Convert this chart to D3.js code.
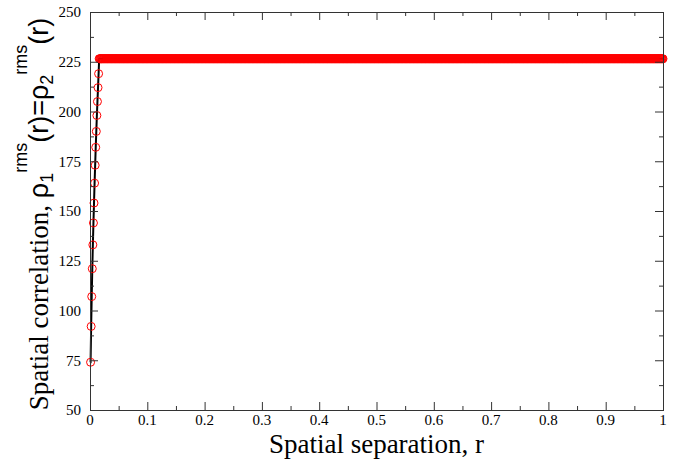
<!DOCTYPE html>
<html>
<head>
<meta charset="utf-8">
<script src="https://cdn.jsdelivr.net/npm/d3@7"></script>
<style>
  body { margin: 0; background: #fff; }
  text { font-family: "Liberation Serif", "Times New Roman", serif; }
  .sans { font-family: "Liberation Sans", Arial, sans-serif; }
</style>
</head>
<body>
<div id="chart"></div>
<script>
// rising part
const riseX = [0.001, 0.002, 0.003, 0.004, 0.005, 0.006, 0.007, 0.008, 0.009, 0.010, 0.011, 0.012, 0.013, 0.014, 0.015];
const riseY = [74, 92, 107, 121, 133, 144, 154, 164, 173, 182, 190, 198, 205, 212, 219];
// plateau: same sampling step up to r = 1
const plateauY = 226.5;
const plateauStart = 0.016;
const plateauStep = 0.001;

const xTicks = [0, 0.1, 0.2, 0.3, 0.4, 0.5, 0.6, 0.7, 0.8, 0.9, 1];
const yTicks = [50, 75, 100, 125, 150, 175, 200, 225, 250];

const width = 682, height = 462;
const margin = {top: 12, right: 19, bottom: 52, left: 90};
const w = width - margin.left - margin.right;
const h = height - margin.top - margin.bottom;

let points = riseX.map((x, i) => ({x: x, y: riseY[i]}));
d3.range(plateauStart, 1 + 1e-9, plateauStep).forEach(x => {
    points.push({x: x, y: plateauY});
});

const x = d3.scaleLinear().domain([0, 1]).range([0, w]);
const y = d3.scaleLinear().domain([50, 250]).range([h, 0]);

const svg = d3.select('#chart').append('svg')
    .attr('width', width)
    .attr('height', height);

const g = svg.append('g')
    .attr('transform', 'translate(' + margin.left + ',' + margin.top + ')');

// black line underneath
const line = d3.line().x(d => x(d.x)).y(d => y(d.y));
g.append('path')
    .datum([{x: 0.0005, y: riseY[0]}].concat(points))
    .attr('fill', 'none')
    .attr('stroke', '#000')
    .attr('stroke-width', 2)
    .attr('d', line);

g.selectAll('circle')
    .data(points)
    .enter()
    .append('circle')
    .attr('cx', d => x(d.x))
    .attr('cy', d => y(d.y))
    .attr('r', 4)
    .attr('fill', 'none')
    .attr('stroke', '#ff0000')
    .attr('stroke-width', 1);

// frame with inward ticks on all four sides
const xMinor = d3.range(0.05, 1, 0.1);
const yMinor = d3.range(62.5, 250, 25);
const tickCol = '#333';

const axBottom = g.append('g').attr('transform', 'translate(0,' + h + ')');
axBottom.call(d3.axisTop(x).tickValues(xTicks).tickSize(8).tickFormat(''));
axBottom.append('g').call(d3.axisTop(x).tickValues(xMinor).tickSize(4).tickFormat(''));
axBottom.selectAll('text.lbl')
    .data(xTicks)
    .enter()
    .append('text')
    .attr('class', 'lbl')
    .attr('x', d => x(d))
    .attr('y', 15)
    .attr('text-anchor', 'middle')
    .attr('font-size', 15)
    .attr('fill', '#000')
    .text(d => d3.format('')(d));

const axTop = g.append('g');
axTop.call(d3.axisBottom(x).tickValues(xTicks).tickSize(8).tickFormat(''));
axTop.append('g').call(d3.axisBottom(x).tickValues(xMinor).tickSize(4).tickFormat(''));

const axLeft = g.append('g');
axLeft.call(d3.axisRight(y).tickValues(yTicks).tickSize(8).tickFormat(''));
axLeft.append('g').call(d3.axisRight(y).tickValues(yMinor).tickSize(4).tickFormat(''));
axLeft.selectAll('text.lbl')
    .data(yTicks)
    .enter()
    .append('text')
    .attr('class', 'lbl')
    .attr('x', -9)
    .attr('y', d => y(d))
    .attr('dy', '0.35em')
    .attr('text-anchor', 'end')
    .attr('font-size', 15)
    .attr('fill', '#000')
    .text(d => d);

const axRight = g.append('g').attr('transform', 'translate(' + w + ',0)');
axRight.call(d3.axisLeft(y).tickValues(yTicks).tickSize(8).tickFormat(''));
axRight.append('g').call(d3.axisLeft(y).tickValues(yMinor).tickSize(4).tickFormat(''));

g.selectAll('.domain, .tick line').attr('stroke', tickCol);

// axis titles
svg.append('text')
    .attr('x', margin.left + w / 2)
    .attr('y', 453)
    .attr('text-anchor', 'middle')
    .attr('font-size', 27)
    .attr('fill', '#000')
    .text('Spatial separation, r');

const yt = svg.append('text')
    .attr('transform', 'translate(48,214) rotate(-90)')
    .attr('text-anchor', 'middle')
    .attr('font-size', 27)
    .attr('fill', '#000');
yt.append('tspan').text('Spatial correlation, ');
yt.append('tspan').attr('class', 'sans').text('ρ');
yt.append('tspan').attr('class', 'sans').attr('font-size', 18).attr('dy', 5).text('1');
yt.append('tspan').attr('class', 'sans').attr('font-size', 18).attr('dy', -26).text('rms');
yt.append('tspan').attr('class', 'sans').attr('dy', 21).text('(r)=ρ');
yt.append('tspan').attr('class', 'sans').attr('font-size', 18).attr('dy', 5).text('2');
yt.append('tspan').attr('class', 'sans').attr('font-size', 18).attr('dy', -26).text('rms');
yt.append('tspan').attr('class', 'sans').attr('dy', 21).text('(r)');
</script>
</body>
</html>
